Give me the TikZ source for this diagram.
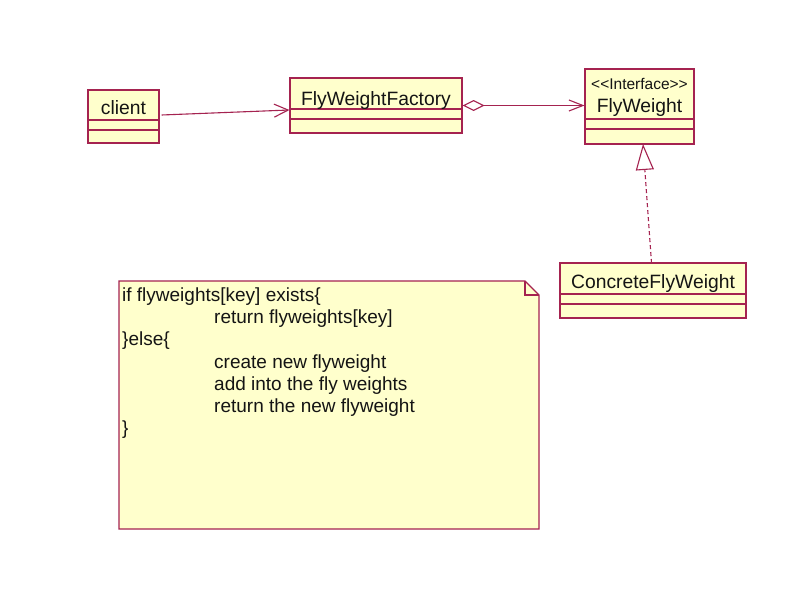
\documentclass[tikz,border=0pt]{standalone}
\usepackage{fontspec}
\setmainfont{Liberation Sans}[Ligatures=NoCommon]
\usetikzlibrary{arrows.meta,calc}
\definecolor{umlline}{RGB}{165,35,80}
\definecolor{umlfill}{RGB}{255,255,204}
\definecolor{umltext}{RGB}{20,20,20}
\tikzset{
  classbox/.style={draw=umlline,fill=umlfill,line width=1.1pt},
  sepline/.style={draw=umlline,line width=1.1pt},
  classname/.style={anchor=base,text=umltext,font=\fontsize{19.3}{19}\selectfont,inner sep=0pt},
  stereo/.style={anchor=base,text=umltext,font=\fontsize{15.5}{15}\selectfont,inner sep=0pt},
  notetext/.style={anchor=base west,text=umltext,font=\fontsize{19}{19}\selectfont,inner sep=0pt},
  conn/.style={draw=umlline,line width=1.1pt},
}
% \umlclassbox{name}{left}{top}{right}{sep1}{sep2}{bottom}
\newcommand{\umlclassbox}[7]{%
  \node[classbox,rectangle,minimum width={(#4-#2)*1pt},minimum height={(#7-#3)*1pt},inner sep=0pt] (#1) at ({(#2+#4)/2},{(#3+#7)/2}) {};
  \draw[sepline] (#2,#5) -- (#4,#5);
  \draw[sepline] (#2,#6) -- (#4,#6);
}
\begin{document}
\begin{tikzpicture}[x=1pt,y=-1pt]
\useasboundingbox[fill=white] (0,0) rectangle (788,589);

% classes
\umlclassbox{client}{88}{90}{159}{120}{130}{143}
\node[classname] (clientname) at (123.5,114) {client};

\umlclassbox{fac}{290}{78}{462}{109}{119}{133}
\node[classname] (facname) at (376,105) {FlyWeightFactory};

\umlclassbox{fw}{585}{69}{694}{119}{129}{144}
\node[stereo] (fwstereo) at (639.5,89) {{<}{<}Interface{>}{>}};
\node[classname] (fwname) at (639.5,112) {FlyWeight};

\umlclassbox{cfw}{560}{263}{746}{294}{304}{318}
\node[classname] (cfwname) at (653,288) {ConcreteFlyWeight};

% note
\draw[classbox] (119,281) -- (525,281) -- (539,295) -- (539,529) -- (119,529) -- cycle;
\draw[sepline] (525,281) -- (525,295) -- (539,295);
\node[notetext] (l1) at (122,301) {if flyweights[key] exists\{};
\node[notetext] (l2) at (214,323) {return flyweights[key]};
\node[notetext] (l3) at (122,345.5) {\}else\{};
\node[notetext] (l4) at (214,368) {create new flyweight};
\node[notetext] (l5) at (214,390) {add into the fly weights};
\node[notetext] (l6) at (214,412) {return the new flyweight};
\node[notetext] (l7) at (122,434.5) {\}};

% connectors
\draw[conn,-{Straight Barb[length=14pt,width=13pt]}] ([xshift=2pt,yshift=1.5pt]client.east) -- ([yshift=-4.5pt]fac.west);
\draw[conn,{Diamond[open,fill=white,length=22pt,width=11pt]}-{Straight Barb[length=14pt,width=11pt]}] (fac.east) -- (fw.west |- fac.east);
\coordinate (tip) at (643,144);
\draw[conn,dashed,dash pattern=on 4pt off 3pt,-{Triangle[open,fill=white,length=26pt,width=18pt]}] (651.5,263) -- (tip);
\end{tikzpicture}
\end{document}
